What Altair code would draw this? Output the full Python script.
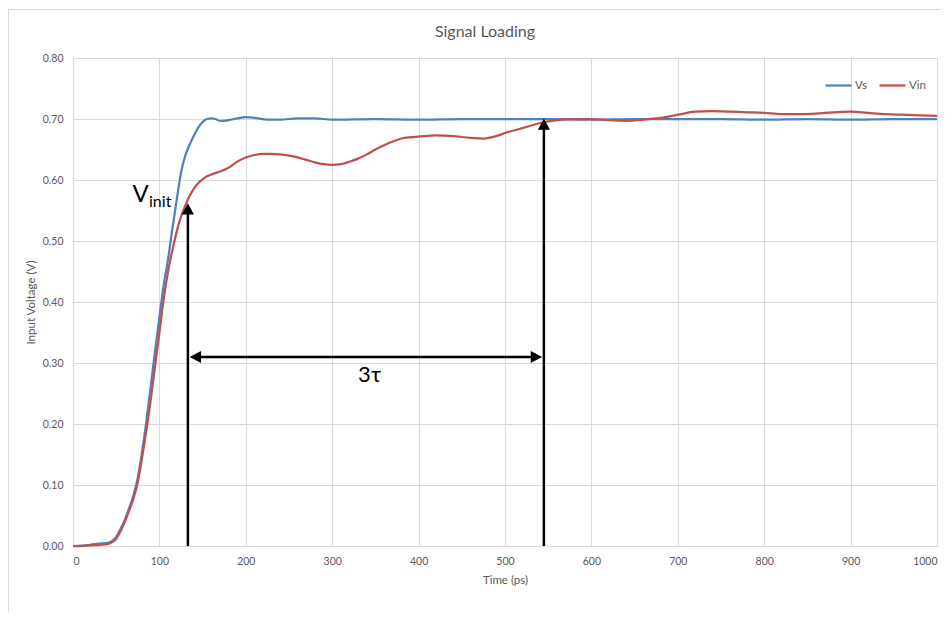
import altair as alt
import pandas as pd

# ---- data ----
t_vs = [0, 10, 20, 30, 40, 45, 50, 55, 60, 65, 70, 75, 80, 85, 90, 95, 100, 105, 110, 115,
        120, 125, 130, 135, 140, 145, 150, 155, 160, 165, 170, 175, 180, 190, 200, 210, 225, 240, 260, 280,
        300, 350, 400, 450, 500, 550, 600, 650, 700, 750, 800, 850, 900, 950, 1000]
v_vs = [0, 0.0005, 0.002, 0.004, 0.005, 0.008, 0.015, 0.028, 0.043, 0.062,
        0.083, 0.112, 0.155, 0.205, 0.262, 0.32, 0.375, 0.428, 0.47, 0.52,
        0.567, 0.612, 0.64, 0.658, 0.673, 0.686, 0.695, 0.700, 0.701, 0.700,
        0.697, 0.697, 0.698, 0.701, 0.703, 0.702, 0.699, 0.699, 0.701, 0.701,
        0.699, 0.700, 0.699, 0.700, 0.700, 0.700, 0.699, 0.700, 0.700, 0.700,
        0.699, 0.700, 0.699, 0.700, 0.700]

t_vin = [0, 10, 20, 30, 40, 45, 50, 55, 60, 65, 70, 75, 80, 85, 90, 95, 100, 105, 110, 115,
         120, 125, 130, 135, 140, 145, 150, 155, 160, 170, 180, 190, 200, 210, 220, 230, 240, 250, 260, 270,
         280, 290, 300, 310, 320, 330, 340, 350, 360, 370, 380, 390, 400, 420, 440, 460, 475, 490, 500, 520,
         540, 560, 580, 600, 620, 640, 660, 680, 700, 720, 740, 760, 780, 800, 820, 840, 860, 880, 900, 920,
         940, 960, 980, 1000]
v_vin = [0, 0, 0.001, 0.002, 0.003, 0.006, 0.012, 0.024, 0.04, 0.058,
         0.078, 0.105, 0.145, 0.19, 0.24, 0.295, 0.35, 0.405, 0.45, 0.485,
         0.515, 0.54, 0.558, 0.574, 0.586, 0.595, 0.601, 0.606, 0.609, 0.614,
         0.620, 0.630, 0.637, 0.641, 0.643, 0.643, 0.642, 0.640, 0.637, 0.633,
         0.629, 0.626, 0.625, 0.626, 0.630, 0.635, 0.642, 0.650, 0.657, 0.663,
         0.668, 0.670, 0.671, 0.673, 0.672, 0.669, 0.668, 0.672, 0.677, 0.685,
         0.693, 0.698, 0.700, 0.700, 0.698, 0.697, 0.699, 0.702, 0.707, 0.712,
         0.713, 0.712, 0.711, 0.710, 0.708, 0.708, 0.709, 0.711, 0.712, 0.710,
         0.708, 0.707, 0.706, 0.705]

series_names = ["Vs", "Vin"]
series_colors = ["#4F81BD", "#C0504D"]

x_ticks = list(range(0, 1001, 100))
y_ticks = [0.0, 0.1, 0.2, 0.3, 0.4, 0.5, 0.6, 0.7, 0.8]

# annotations (data units)
varrow_t = [133, 545]
varrow_tip = [0.562, 0.701]
harrow_t = [135, 543]
harrow_v = 0.31
tau_label = ["3τ"]
tau_t = [330]
tau_v = [0.28]
vinit_main = ["V"]
vinit_t = [69]
vinit_v = [0.564]
vinit_sub = ["init"]
vinit_sub_t = [88]
vinit_sub_v = [0.556]

FONT = "Lato"
GRAY = "#595959"
GRID = "#d9d9d9"

df_vs = pd.DataFrame({"t": t_vs, "v": v_vs, "series": "Vs"})
df_vin = pd.DataFrame({"t": t_vin, "v": v_vin, "series": "Vin"})

x_enc = alt.X("t:Q", scale=alt.Scale(domain=[0, 1000], nice=False),
              axis=alt.Axis(values=x_ticks, title="Time (ps)", format="d",
                            grid=True, gridColor=GRID, ticks=False,
                            domainColor=GRID, labelPadding=10, titlePadding=8,
                            labelFont=FONT, labelFontSize=10.5, labelColor=GRAY,
                            titleFont=FONT, titleFontSize=11.5, titleColor=GRAY,
                            titleFontWeight="normal"))
y_enc = alt.Y("v:Q", scale=alt.Scale(domain=[0, 0.8], nice=False),
              axis=alt.Axis(values=y_ticks, title="Input Voltage (V)", format=".2f",
                            grid=True, gridColor=GRID, ticks=False, domain=False,
                            labelPadding=10, titlePadding=6,
                            labelFont=FONT, labelFontSize=10.5, labelColor=GRAY,
                            titleFont=FONT, titleFontSize=11.5, titleColor=GRAY,
                            titleFontWeight="normal"))
color_enc = alt.Color("series:N",
                      scale=alt.Scale(domain=series_names, range=series_colors),
                      legend=alt.Legend(title=None, orient="none", direction="horizontal",
                                        legendX=751, legendY=13, symbolType="stroke",
                                        symbolSize=676, symbolStrokeWidth=2.25,
                                        labelFont=FONT, labelFontSize=11.5, labelColor=GRAY,
                                        labelOffset=2, columnPadding=8, padding=0))

line_vs = alt.Chart(df_vs).mark_line(strokeWidth=2.25, interpolate="monotone").encode(
    x=x_enc, y=y_enc, color=color_enc)
line_vin = alt.Chart(df_vin).mark_line(strokeWidth=2.25, interpolate="monotone").encode(
    x="t:Q", y="v:Q", color=color_enc)

df_va = pd.DataFrame({"t": varrow_t, "y0": [0, 0], "tip": varrow_tip})
vrules = alt.Chart(df_va).mark_rule(color="black", strokeWidth=2.5, y2Offset=8).encode(
    x="t:Q", y="y0:Q", y2="tip:Q")
vheads = alt.Chart(df_va).mark_point(shape="M0,0L-0.5,0.95L0.5,0.95Z", filled=True,
                                     size=576, color="black", opacity=1, strokeWidth=0).encode(
    x="t:Q", y="tip:Q")

df_ha = pd.DataFrame({"t0": [harrow_t[0]], "t1": [harrow_t[1]], "v": [harrow_v]})
hrule = alt.Chart(df_ha).mark_rule(color="black", strokeWidth=2.5, xOffset=8, x2Offset=-8).encode(
    x="t0:Q", x2="t1:Q", y="v:Q")
df_hl = pd.DataFrame({"t": [harrow_t[0]], "v": [harrow_v]})
df_hr = pd.DataFrame({"t": [harrow_t[1]], "v": [harrow_v]})
hhead_l = alt.Chart(df_hl).mark_point(shape="M0,0L0.95,-0.5L0.95,0.5Z", filled=True,
                                      size=576, color="black", opacity=1, strokeWidth=0).encode(
    x="t:Q", y="v:Q")
hhead_r = alt.Chart(df_hr).mark_point(shape="M0,0L-0.95,-0.5L-0.95,0.5Z", filled=True,
                                      size=576, color="black", opacity=1, strokeWidth=0).encode(
    x="t:Q", y="v:Q")

tau = alt.Chart(pd.DataFrame({"t": tau_t, "v": tau_v, "s": tau_label})).mark_text(
    font=FONT, fontSize=22, align="left", baseline="middle", color="black").encode(
    x="t:Q", y="v:Q", text="s:N")
vmain = alt.Chart(pd.DataFrame({"t": vinit_t, "v": vinit_v, "s": vinit_main})).mark_text(
    font=FONT, fontSize=24, align="left", baseline="alphabetic", color="black").encode(
    x="t:Q", y="v:Q", text="s:N")
vsub = alt.Chart(pd.DataFrame({"t": vinit_sub_t, "v": vinit_sub_v, "s": vinit_sub})).mark_text(
    font=FONT, fontSize=16, align="left", baseline="alphabetic", color="black").encode(
    x="t:Q", y="v:Q", text="s:N")

dummy = pd.DataFrame({"a": [0]})
border_left = alt.Chart(dummy).mark_rule(color=GRID, strokeWidth=1).encode(
    x=alt.value(-64.5), y=alt.value(-48.5), y2=alt.value(570))
border_top = alt.Chart(dummy).mark_rule(color=GRID, strokeWidth=1).encode(
    x=alt.value(-64.5), x2=alt.value(870), y=alt.value(-48.5))

chart = alt.layer(
    border_left, border_top, line_vs, line_vin, vrules, vheads, hrule, hhead_l, hhead_r,
    tau, vmain, vsub
).properties(
    width=864, height=488,
    title=alt.TitleParams("Signal Loading", font=FONT, fontSize=16, fontWeight="normal",
                          color=GRAY, anchor="middle", dx=-20, offset=-31),
    autosize=alt.AutoSizeParams(type="none"),
    padding={"left": 65, "top": 50, "right": 4, "bottom": 66},
).configure_view(stroke=None).configure(background="white")

chart.save("out.html", embed_options={"renderer": "svg", "actions": False})
